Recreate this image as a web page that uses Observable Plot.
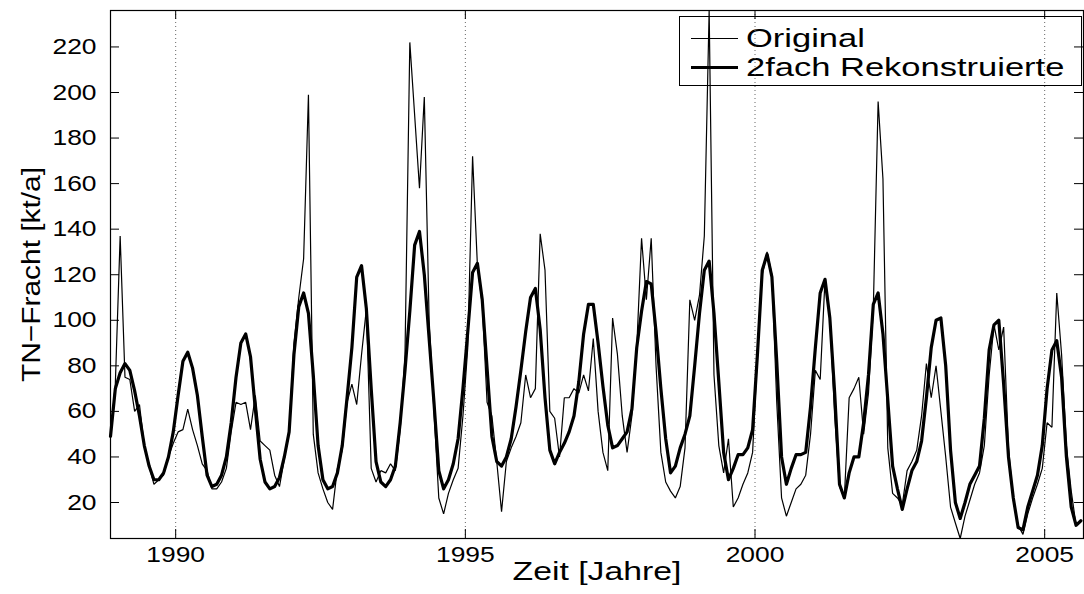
<!DOCTYPE html>
<html><head><meta charset="utf-8">
<script src="https://cdn.jsdelivr.net/npm/d3@7"></script>
<script src="https://cdn.jsdelivr.net/npm/@observablehq/plot@0.6"></script>
<style>
body{margin:0;background:#fff;}
#wrap{position:relative;width:1084px;height:594px;font-family:"Liberation Sans",Arial,Helvetica,sans-serif;}
#legend{position:absolute;left:679px;top:16px;width:401px;height:68px;border:1px solid #000;background:#fff;z-index:0;}
#chart{position:absolute;left:0;top:0;z-index:1;}
.row{position:absolute;left:0;height:29px;width:100%;}
.sw{position:absolute;left:11px;width:47px;background:#000;}
.lab{position:absolute;left:66px;top:0;font-size:25px;line-height:29px;transform:scaleX(1.38);transform-origin:left center;white-space:nowrap;color:#000;}
</style></head>
<body><div id="wrap"><div id="legend"></div><div id="chart"></div></div>
<script>
// ---- data (monthly values, starting Nov 1988) ----
const startYear = 1988.875;
const seriesNames = ["Original", "2fach Rekonstruierte"];
const original = [
 49,72,137,75,74,60,63,45,36,28,30,32,40,46,51,52,61,52,45,37,
 34,26,26,29,35,51,64,63,64,52,67,47,45,43,32,27,39,51,90,110,
 127,199,50,33,26,20,17,35,43,64,72,63,85,105,35,29,34,33,37,34,
 52,85,222,190,158,198,100,60,22,15,24,30,35,58,88,172,124,107,64,58,
 38,16,38,44,49,55,76,66,70,138,122,60,57,40,66,66,70,68,76,69,
 92,60,42,34,101,85,58,42,58,88,136,109,136,80,42,29,25,22,27,44,
 109,100,111,137,236,76,45,33,48,18,22,28,33,42,85,120,130,120,64,22,
 14,20,26,28,32,50,78,74,118,101,58,27,22,66,70,75,50,68,105,196,
 162,44,24,22,19,34,38,43,58,81,66,80,60,40,18,11,4.2,14,21,28,
 33,45,76,98,87,97,44,21,10,6,15,22,28,35,55,53,112,85,45,25,
 10,12
];
const rekonstruiert = [
 49,70,77,81,78,69,58,45,36,30,30,33,40,51,67,82,86,79,67,49,
 32,27,28,32,40,55,75,90,94,84,61,39,29,26,27,31,40,51,85,106,
 112,103,76,45,30,26,27,33,45,66,88,119,124,105,70,38,29,27,30,36,
 55,78,104,133,139,120,92,64,34,26,30,37,48,70,95,121,125,109,79,49,
 38,36,40,48,62,78,95,110,114,96,66,43,37,42,46,51,58,73,94,107,
 107,90,71,54,44,45,48,51,61,88,104,117,116,95,70,48,33,36,44,50,
 58,80,103,122,126,103,73,42,30,35,41,41,44,52,85,122,129,119,82,40,
 28,35,41,41,42,62,88,112,118,101,68,28,22,33,40,40,55,76,107,112,
 94,65,36,26,17,26,34,38,47,66,88,100,101,80,43,20,13,20,28,32,
 36,57,87,98,100,72,40,22,9,8,18,25,32,45,70,87,91,75,40,18,
 10,12
];
const xTicks = [1990, 1995, 2000, 2005];
const yTicks = [20, 40, 60, 80, 100, 120, 140, 160, 180, 200, 220];
const xLabel = "Zeit [Jahre]";
const yLabel = "TN\u2212Fracht [kt/a]";
const xDomain = [1988.875, 2005.67];
const yDomain = [4.2, 236];

// ---- layout ----
const W = 1084, H = 594;
const mL = 110, mR = 1, mT = 10, mB = 56;
const fw = W - mL - mR, fh = H - mT - mB, tickLen = 9;

const rows = original.map((v, i) => ({t: startYear + i / 12, orig: v, rek: rekonstruiert[i]}));

const chart = Plot.plot({
  width: W, height: H,
  marginLeft: mL, marginRight: mR, marginTop: mT, marginBottom: mB,
  style: {background: "transparent", fontFamily: '"Liberation Sans", Arial, Helvetica, sans-serif', color: "#000"},
  x: {domain: xDomain},
  y: {domain: yDomain},
  marks: [
    Plot.ruleX(xTicks, {x: d => d, stroke: "#666", strokeWidth: 1, strokeDasharray: "1,3"}),
    Plot.tickY(yTicks, {y: d => d, insetRight: fw - tickLen, stroke: "#000"}),
    Plot.tickY(yTicks, {y: d => d, insetLeft: fw - tickLen, stroke: "#000"}),
    Plot.tickX(xTicks, {x: d => d, insetTop: fh - tickLen, stroke: "#000"}),
    Plot.tickX(xTicks, {x: d => d, insetBottom: fh - tickLen, stroke: "#000"}),
    Plot.line(rows, {x: "t", y: "orig", stroke: "#000", strokeWidth: 1.2, strokeLinejoin: "miter"}),
    Plot.line(rows, {x: "t", y: "rek", stroke: "#000", strokeWidth: 3.2, strokeLinejoin: "round"}),
    Plot.frame({stroke: "#000", strokeWidth: 1.2}),
    Plot.axisX(xTicks, {tickSize: 0, tickPadding: 8, fontSize: 22, label: null, tickFormat: d => String(d)}),
    Plot.axisY(yTicks, {tickSize: 0, tickPadding: 14, fontSize: 22, label: null, tickFormat: d => String(d)}),
    Plot.text([xLabel], {text: d => d, frameAnchor: "bottom", textAnchor: "middle", dy: 41, fontSize: 26}),
    Plot.text([yLabel], {text: d => d, frameAnchor: "left", textAnchor: "middle", dx: -79, rotate: -90, fontSize: 26})
  ]
});

// widen glyphs horizontally like the stretched reference figure
chart.querySelectorAll("text").forEach(t => {
  const s = t.textContent;
  let k = 1.2;
  if (s === xLabel) k = 1.3;
  else if (s === yLabel) k = 1.15;
  const tr = t.getAttribute("transform");
  if (tr) t.setAttribute("transform", tr + ` scale(${k},1)`);
  else {
    const x = +t.getAttribute("x") || 0;
    t.setAttribute("transform", `translate(${x},0) scale(${k},1) translate(${-x},0)`);
  }
});
document.getElementById("chart").appendChild(chart);

// legend
const legend = document.getElementById("legend");
const widths = [1.3, 3.2];
const tops = [7, 36];
seriesNames.forEach((name, i) => {
  const row = document.createElement("div");
  row.className = "row";
  row.style.top = tops[i] + "px";
  const sw = document.createElement("div");
  sw.className = "sw";
  sw.style.height = widths[i] + "px";
  sw.style.top = (14.5 - widths[i] / 2) + "px";
  const lab = document.createElement("div");
  lab.className = "lab";
  lab.textContent = name;
  row.appendChild(sw); row.appendChild(lab);
  legend.appendChild(row);
});
</script></body></html>
